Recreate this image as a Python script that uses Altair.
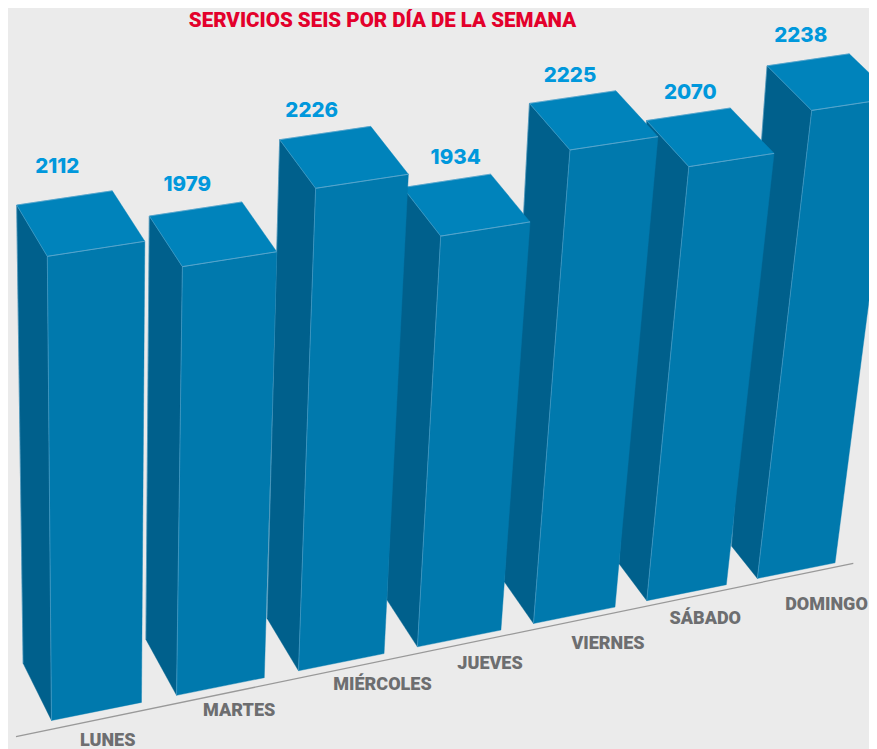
import altair as alt
import pandas as pd

# --- data -----------------------------------------------------------------
DAYS = ["LUNES", "MARTES", "MIÉRCOLES", "JUEVES", "VIERNES", "SÁBADO", "DOMINGO"]
VALUES = [2112, 1979, 2226, 1934, 2225, 2070, 2238]

# --- layout ---------------------------------------------------------------
RIGHT, BOTTOM = 869, 749
M = 8  # page margin
BG = "#EBEBEB"
FRONT, SIDE, TOP = "#0079AD", "#00608C", "#0083BB"
EDGE = "#62A9CE"
BAR_WIDTH = 0.717
VALUE_POS = [(57.3, 166.7), (187.3, 185), (311.7, 110.7), (455.7, 157.8),
             (570, 76), (690.3, 92.7), (800.8, 35.7)]
LABEL_POS = [(107.7, 740.8), (239.2, 710.7), (382.5, 685), (490, 664),
             (608, 644), (705.3, 619), (826.5, 605)]


def project(x, v, z):
    """Perspective projection of (position along row, value, depth) to the page."""
    w = 1 + 0.01275 * x - 0.0000368 * v + 0.0215 * z
    return ((51.5 + 127.3 * x - 0.00373 * v - 27.9 * z) / w,
            (720.5 - 16.3 * x - 0.2292 * v - 42.9 * z) / w)


def ground_depth(i):
    return min(1.0, 1.12 - 0.08 * i)


rows = []
gid = 0


def add(points, fill, stroke, sw):
    global gid
    for s, (px, py) in enumerate(points):
        rows.append(dict(gid=gid, seq=s, px=px, py=py, fill=fill, stroke=stroke, sw=sw))
    gid += 1


for i in reversed(range(len(VALUES))):
    v = VALUES[i]
    x0, x1 = i, i + BAR_WIDTH
    d = ground_depth(i)
    fl0, fr0 = project(x0, 0, 0), project(x1, 0, 0)
    fl1, fr1 = project(x0, v, 0), project(x1, v, 0)
    bl0 = project(x0, 0, d)
    bl1, br1 = project(x0, v, 1), project(x1, v, 1)
    add([bl1, fl1, fl0, bl0], SIDE, SIDE, 0.4)
    add([fl1, fr1, fr0, fl0], FRONT, FRONT, 0.4)
    add([bl1, br1, fr1, fl1], TOP, TOP, 0.4)
    add([fl1, fr1], "transparent", EDGE, 0.6)
    add([fl1, fl0], "transparent", EDGE, 0.3)
    add([bl1, fl1], "transparent", EDGE, 0.25)
    add([bl1, br1], "transparent", EDGE, 0.4)
    add([bl1, bl0], "transparent", EDGE, 0.3)

faces = pd.DataFrame(rows)
xs = alt.Scale(domain=[M, RIGHT], nice=False, zero=False)
ys = alt.Scale(domain=[BOTTOM, M], nice=False, zero=False)
X = alt.X("px:Q", scale=xs, axis=None)
Y = alt.Y("py:Q", scale=ys, axis=None)

bars = alt.Chart(faces).mark_line(interpolate="linear-closed", clip=True).encode(
    x=X, y=Y,
    detail="gid:N",
    order=alt.Order("seq:Q"),
    fill=alt.Fill("fill:N", scale=None),
    stroke=alt.Stroke("stroke:N", scale=None),
    strokeWidth=alt.StrokeWidth("sw:Q", scale=None),
)

floor = alt.Chart(pd.DataFrame({"px": [16, 853.3], "py": [736.7, 563.3]})).mark_line(
    color="#999999", strokeWidth=1.3).encode(x=X, y=Y)

vals = pd.DataFrame({"t": [str(v) for v in VALUES],
                     "px": [p[0] for p in VALUE_POS], "py": [p[1] for p in VALUE_POS]})
val_text = alt.Chart(vals).mark_text(
    font="Inter", fontWeight=800, fontSize=20.5, color="#0098DC", baseline="middle", align="center"
).encode(x=X, y=Y, text="t:N")

labs = pd.DataFrame({"t": DAYS, "px": [p[0] for p in LABEL_POS], "py": [p[1] for p in LABEL_POS]})
lab_text = alt.Chart(labs).mark_text(
    font="Roboto", fontWeight=900, fontSize=18, color="#6D6E70", baseline="middle", align="center"
).encode(x=X, y=Y, text="t:N")

title = alt.Chart(pd.DataFrame({"t": ["SERVICIOS SEIS POR DÍA DE LA SEMANA"], "px": [382.5], "py": [20.5]})).mark_text(
    font="Roboto", fontWeight=900, fontSize=20.5, color="#E3002B", baseline="middle", align="center"
).encode(x=X, y=Y, text="t:N")

chart = alt.layer(bars, floor, val_text, lab_text, title).properties(
    width=RIGHT - M, height=BOTTOM - M, padding=0,
    autosize=alt.AutoSizeParams(type="none"),
    background=BG,
).configure_view(stroke=None)

chart.save("out.html", embed_options={"renderer": "svg", "actions": False})
